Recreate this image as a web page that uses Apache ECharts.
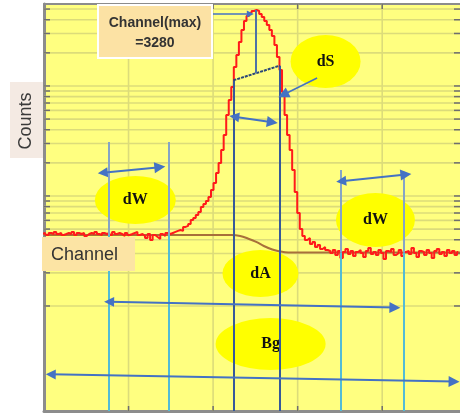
<!DOCTYPE html>
<html>
<head>
<meta charset="utf-8">
<script src="https://cdn.jsdelivr.net/npm/echarts@6/dist/echarts.min.js"></script>
<style>
  html, body { margin: 0; padding: 0; background: #ffffff; }
  #chart { width: 460px; height: 419px; }
</style>
</head>
<body>
<div id="chart"></div>
<script>
// Gamma spectrum around one peak: counts per channel (uniform channel step)
const channelStart = 3028;
const channelStep = 3;
const counts = [
  451, 461, 442, 461, 451, 471, 451, 461, 442, 451,
  461, 451, 471, 442, 461, 451, 461, 433, 451, 461,
  451, 471, 451, 442, 461, 451, 461, 442, 471, 451,
  461, 451, 433, 461, 442, 451, 461, 471, 442, 451,
  433, 415, 451, 398, 442, 424, 407, 451, 433, 461,
  451, 461, 471, 481, 491, 481, 523, 534, 557, 605,
  631, 672, 715, 794, 846, 900, 979, 1134, 1313, 1619,
  1995, 2619, 3585, 5450, 7459, 9793, 14880, 19130, 25120, 32290,
  38980, 43290, 46090, 48070, 49090, 48070, 45120, 42390, 38980, 35850,
  32290, 28480, 23590, 18340, 13980, 8820, 5450, 3585, 2619, 1723,
  1087, 701, 501, 433, 398, 415, 366, 382, 344, 359,
  330, 344, 323, 316,
  303, 323, 291, 316, 273, 310, 330, 297, 316, 285,
  310, 323, 303, 279, 316, 337, 297, 310, 291, 323,
  303, 268, 316, 310, 330, 291, 303, 323, 285, 310,
  316, 297, 337, 303, 279, 316, 310, 291, 323, 303,
  273, 316, 330, 297, 310, 285, 323, 303, 316, 291,
  310
];

// Step-shaped background continuum beneath the peak
const bgChannels = [3030, 3252, 3262, 3271, 3281, 3290, 3300, 3309, 3319, 3522];
const bgCounts   = [442, 442, 433, 411, 382, 351, 326, 313, 306, 306];

// Peak region of interest and the two background windows (channels)
const peakChannel = 3280;
const roiStart = 3254;
const roiEnd = 3309;
const leftWindow = [3106, 3178];
const rightWindow = [3381, 3455];
const leftWindowTop = 3097;
const rightWindowTop = [1723, 1663];

// Axis ranges and grid values
const xRange = [3030, 3522];
const yRange = [11.1, 55600];
const xGridValues = [3130, 3230, 3330, 3430];
const yGridValues = [
  100, 200, 300, 400, 500, 600, 700, 800, 900,
  1000, 2000, 3000, 4000, 5000, 6000, 7000, 8000, 9000,
  10000, 20000, 30000, 40000, 50000
];

// Annotation labels (ellipses)
const markerNames = ['dW', 'dS', 'dW', 'dA', 'Bg'];
const markerAnchors = [[3138, 919], [3363, 16700], [3422, 605], [3286, 197], [3298, 45.1]];
const markerSizes = [[81, 48], [70, 53], [79, 54], [76, 47], [110, 52]];

// Arrow annotations, in channel / counts
const doubleArrows = [
  [[3099.5, 1625], [3167, 1828]],   // left background window width
  [[3255, 5259], [3300, 4677]],     // peak region width
  [[3381.5, 1363], [3458, 1569]],   // right background window width
  [[3107, 109.2], [3445, 96.7]],    // span between the windows
  [[3038, 23.9], [3515, 20.55]]     // full range
];
const singleArrows = [
  [[3229, 45120], [3274, 45120]],   // pointer to the maximum
  [[3353, 11820], [3313, 8318]]     // dS pointer
];

// ---- derived values ----
const spectrum = counts.map((c, i) => [channelStart + i * channelStep, c]);
const background = bgChannels.map((ch, i) => [ch, bgCounts[i]]);

function countAt(ch) {
  const f = (ch - channelStart) / channelStep;
  const i = Math.floor(f);
  const t = f - i;
  const a = Math.log10(counts[i]);
  const b = Math.log10(counts[i + 1]);
  return Math.pow(10, a + (b - a) * t);
}
const peakMax = Math.max.apply(null, counts);
const roiTopL = countAt(roiStart);
const roiTopR = countAt(roiEnd);
const chordAtPeak = Math.pow(10, Math.log10(roiTopL) +
  (Math.log10(roiTopR) - Math.log10(roiTopL)) * (peakChannel - roiStart) / (roiEnd - roiStart));
const leftLevel = bgCounts[0];
const rightLevel = bgCounts[bgCounts.length - 1];

const gridColor = '#DCDC7A';
const tickColor = '#6E6E6E';
const axisColor = '#8C8C8C';

function renderHGrid(params, api) {
  const cs = params.coordSys;
  const y = api.coord([xRange[0], api.value(1)])[1];
  const x0 = cs.x, x1 = cs.x + cs.width;
  return {
    type: 'group',
    children: [
      { type: 'line', shape: { x1: x0, y1: y, x2: x1, y2: y }, style: { stroke: gridColor, lineWidth: 1.6 } },
      { type: 'line', shape: { x1: x0, y1: y, x2: x0 + 6, y2: y }, style: { stroke: tickColor, lineWidth: 1.5 } },
      { type: 'line', shape: { x1: x1 - 6, y1: y, x2: x1, y2: y }, style: { stroke: tickColor, lineWidth: 1.5 } }
    ]
  };
}
function renderVGrid(params, api) {
  const cs = params.coordSys;
  const x = api.coord([api.value(0), yRange[0]])[0];
  const y0 = cs.y, y1 = cs.y + cs.height;
  return {
    type: 'group',
    children: [
      { type: 'line', shape: { x1: x, y1: y0, x2: x, y2: y1 }, style: { stroke: gridColor, lineWidth: 1.6 } },
      { type: 'line', shape: { x1: x, y1: y0, x2: x, y2: y0 + 5 }, style: { stroke: tickColor, lineWidth: 1.5 } },
      { type: 'line', shape: { x1: x, y1: y1 - 5, x2: x, y2: y1 }, style: { stroke: tickColor, lineWidth: 1.5 } }
    ]
  };
}

const roiColor = '#36599A';
const upperWinColor = '#86A4C6';
const lowerWinColor = '#52BCD6';
const arrowColor = '#4472C4';

function guide(from, to, color, extra) {
  return { coords: [from, to], lineStyle: Object.assign({ color: color, width: 2, opacity: 1 }, extra || {}) };
}

const guideLines = [
  guide([roiStart, roiTopL], [roiStart, yRange[0]], roiColor),
  guide([roiEnd, roiTopR], [roiEnd, yRange[0]], roiColor),
  guide([roiStart, roiTopL], [roiEnd, roiTopR], '#2B4777', { type: [3, 1] }),
  guide([peakChannel, peakMax], [peakChannel, chordAtPeak], '#4E72A6'),
  guide([leftWindow[0], leftWindowTop], [leftWindow[0], leftLevel], upperWinColor),
  guide([leftWindow[1], leftWindowTop], [leftWindow[1], leftLevel], upperWinColor),
  guide([rightWindow[0], rightWindowTop[0]], [rightWindow[0], rightLevel], upperWinColor),
  guide([rightWindow[1], rightWindowTop[1]], [rightWindow[1], rightLevel], upperWinColor),
  guide([leftWindow[0], leftLevel], [leftWindow[0], yRange[0]], lowerWinColor),
  guide([leftWindow[1], leftLevel], [leftWindow[1], yRange[0]], lowerWinColor),
  guide([rightWindow[0], rightLevel], [rightWindow[0], yRange[0]], lowerWinColor),
  guide([rightWindow[1], rightLevel], [rightWindow[1], yRange[0]], lowerWinColor)
];

const chart = echarts.init(document.getElementById('chart'), null, { renderer: 'canvas' });

chart.setOption({
  animation: false,
  backgroundColor: '#ffffff',
  grid: {
    left: 44, top: 4, right: 0, bottom: 8,
    show: true, backgroundColor: '#FFFF80', borderWidth: 0,
    containLabel: false
  },
  xAxis: [
    {
      type: 'value', min: xRange[0], max: xRange[1], position: 'bottom',
      axisLine: { show: true, onZero: false, lineStyle: { color: axisColor, width: 3 } },
      axisTick: { show: false }, axisLabel: { show: false }, splitLine: { show: false }
    },
    {
      type: 'value', min: xRange[0], max: xRange[1], position: 'top',
      axisLine: { show: true, onZero: false, lineStyle: { color: axisColor, width: 2 } },
      axisTick: { show: false }, axisLabel: { show: false }, splitLine: { show: false }
    }
  ],
  yAxis: {
    type: 'log', logBase: 10, min: yRange[0], max: yRange[1],
    axisLine: { show: true, onZero: false, lineStyle: { color: axisColor, width: 3 } },
    axisTick: { show: false }, axisLabel: { show: false }, splitLine: { show: false }
  },
  series: [
    {
      type: 'custom', z: 1, silent: true,
      renderItem: renderHGrid,
      encode: { x: 0, y: 1 },
      data: yGridValues.map(v => [xRange[0], v])
    },
    {
      type: 'custom', z: 1, silent: true,
      renderItem: renderVGrid,
      encode: { x: 0, y: 1 },
      data: xGridValues.map(v => [v, yRange[0]])
    },
    {
      type: 'scatter', z: 2, silent: true,
      symbol: 'circle',
      itemStyle: { color: '#FFFF00', opacity: 1 },
      label: {
        show: true, position: 'inside', formatter: '{b}',
        fontFamily: '"Liberation Serif", "DejaVu Serif", serif',
        fontWeight: 'bold', fontSize: 16, color: '#111111'
      },
      data: markerNames.map((n, i) => ({ name: n, value: markerAnchors[i], symbolSize: markerSizes[i] }))
    },
    {
      type: 'line', z: 3, silent: true,
      data: background, smooth: 0.35, symbol: 'none',
      lineStyle: { color: '#A8703A', width: 2 }
    },
    {
      type: 'line', z: 4, silent: true,
      data: spectrum, step: 'middle', symbol: 'none',
      lineStyle: { color: '#FF1A1A', width: 2 }
    },
    {
      type: 'lines', z: 5, silent: true, coordinateSystem: 'cartesian2d',
      symbol: 'none',
      data: guideLines
    },
    {
      type: 'lines', z: 6, silent: true, coordinateSystem: 'cartesian2d',
      symbol: ['triangle', 'triangle'], symbolSize: [10, 11],
      lineStyle: { color: arrowColor, width: 2, opacity: 1 },
      itemStyle: { color: arrowColor },
      data: doubleArrows.map(c => ({ coords: c }))
    },
    {
      type: 'lines', z: 6, silent: true, coordinateSystem: 'cartesian2d',
      symbol: ['none', 'triangle'], symbolSize: [10, 11],
      lineStyle: { color: arrowColor, width: 1.6, opacity: 1 },
      data: [
        { coords: singleArrows[0], symbolSize: [7, 7] },
        { coords: singleArrows[1] }
      ]
    }
  ],
  graphic: [
    {
      type: 'rect', z: 100,
      shape: { x: 98, y: 5, width: 114, height: 53 },
      style: { fill: '#FCE2A4', stroke: '#ffffff', lineWidth: 2 }
    },
    {
      type: 'text', z: 101, x: 155, y: 33,
      style: {
        text: 'Channel(max)\n=3280', align: 'center', verticalAlign: 'middle',
        fontFamily: '"Liberation Sans", Arial, sans-serif', fontWeight: 'bold',
        fontSize: 14, lineHeight: 20, fill: '#333333'
      }
    },
    {
      type: 'rect', z: 100,
      shape: { x: 10, y: 82, width: 33, height: 76 },
      style: { fill: '#F4EAE3' }
    },
    {
      type: 'text', z: 101, x: 26, y: 121, rotation: Math.PI / 2,
      style: {
        text: 'Counts', align: 'center', verticalAlign: 'middle',
        fontFamily: '"Liberation Sans", Arial, sans-serif',
        fontSize: 18, fill: '#3A3A3A'
      }
    },
    {
      type: 'rect', z: 100,
      shape: { x: 42, y: 237, width: 93, height: 34 },
      style: { fill: '#FCE4A4' }
    },
    {
      type: 'text', z: 101, x: 51, y: 255,
      style: {
        text: 'Channel', align: 'left', verticalAlign: 'middle',
        fontFamily: '"Liberation Sans", Arial, sans-serif',
        fontSize: 18, fill: '#333333'
      }
    }
  ]
});
</script>
</body>
</html>
